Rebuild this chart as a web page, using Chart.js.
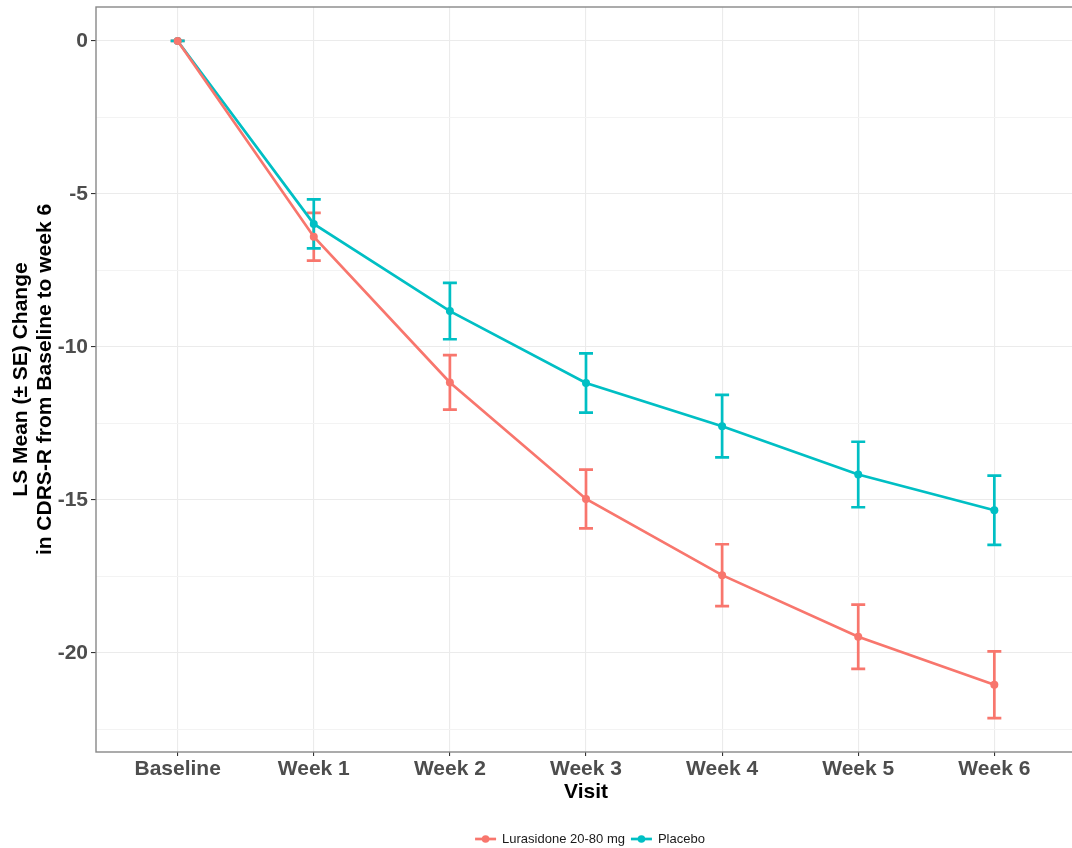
<!DOCTYPE html>
<html>
<head>
<meta charset="utf-8">
<script src="https://cdn.jsdelivr.net/npm/chart.js@4.4.1/dist/chart.umd.min.js"></script>
<style>
  html, body { margin: 0; padding: 0; background: #fff; overflow: hidden; }
  canvas { display: block; }
</style>
</head>
<body>
<canvas id="chart" width="1080" height="848"></canvas>
<script>
// values
var visits = ['Baseline', 'Week 1', 'Week 2', 'Week 3', 'Week 4', 'Week 5', 'Week 6'];
var lurasidoneMean = [0, -6.40, -11.16, -14.97, -17.46, -19.47, -21.04];
var lurasidoneSE = [0, 0.78, 0.89, 0.96, 1.01, 1.05, 1.09];
var placeboMean = [0, -5.98, -8.83, -11.18, -12.59, -14.17, -15.34];
var placeboSE = [0, 0.80, 0.92, 0.97, 1.02, 1.07, 1.13];
var yMajorTicks = [0, -5, -10, -15, -20];
var yMinorTicks = [-2.5, -7.5, -12.5, -17.5, -22.5];
var seriesNames = ['Lurasidone 20-80 mg', 'Placebo'];
var seriesColors = ['#F8766D', '#00BFC4'];

var FONT = '"Liberation Sans", Arial, sans-serif';

function toPoints(means)
{
    return means.map(function (m, i) { return { x: i, y: m }; });
}

var errorBars = {
    id: 'errorBars',
    beforeDatasetsDraw: function (chart) {
        var ctx = chart.ctx;
        var xs = chart.scales.x, ys = chart.scales.y;
        var ses = [lurasidoneSE, placeboSE];
        var means = [lurasidoneMean, placeboMean];
        ctx.save();
        ctx.lineWidth = 2.7;
        for (var s = 0; s < 2; s++) {
            ctx.strokeStyle = seriesColors[s];
            for (var i = 0; i < visits.length; i++) {
                var px = xs.getPixelForValue(i);
                var top = ys.getPixelForValue(means[s][i] + ses[s][i]);
                var bot = ys.getPixelForValue(means[s][i] - ses[s][i]);
                ctx.beginPath();
                ctx.moveTo(px, top); ctx.lineTo(px, bot);
                ctx.moveTo(px - 7, top); ctx.lineTo(px + 7, top);
                ctx.moveTo(px - 7, bot); ctx.lineTo(px + 7, bot);
                ctx.stroke();
            }
        }
        ctx.restore();
    }
};

var frameAndLegend = {
    id: 'frameAndLegend',
    afterDraw: function (chart) {
        var ctx = chart.ctx;
        var a = chart.chartArea;
        ctx.save();
        ctx.strokeStyle = '#888888';
        ctx.lineWidth = 1.4;
        ctx.strokeRect(a.left, a.top, a.right - a.left, a.bottom - a.top);

        // legend under the plot
        ctx.font = '13px ' + FONT;
        ctx.textBaseline = 'middle';
        var keyW = 21, gap = 6, itemGap = 6;
        var total = 0;
        seriesNames.forEach(function (n, i) {
            total += keyW + gap + ctx.measureText(n).width + (i < seriesNames.length - 1 ? itemGap : 0);
        });
        var x = (a.left + a.right) / 2 + 4 - total / 2;
        var y = 839;
        seriesNames.forEach(function (n, i) {
            ctx.strokeStyle = seriesColors[i];
            ctx.fillStyle = seriesColors[i];
            ctx.lineWidth = 2.7;
            ctx.beginPath();
            ctx.moveTo(x, y); ctx.lineTo(x + keyW, y);
            ctx.stroke();
            ctx.beginPath();
            ctx.arc(x + keyW / 2, y, 3.8, 0, Math.PI * 2);
            ctx.fill();
            x += keyW + gap;
            ctx.fillStyle = '#1a1a1a';
            ctx.fillText(n, x, y);
            x += ctx.measureText(n).width + itemGap;
        });
        ctx.restore();
    }
};

var ctx = document.getElementById('chart').getContext('2d');
var chart = new Chart(ctx, {
    type: 'line',
    data: {
        datasets: [
            {
                label: seriesNames[0],
                data: toPoints(lurasidoneMean),
                borderColor: seriesColors[0],
                backgroundColor: seriesColors[0],
                borderWidth: 2.7,
                pointRadius: 4,
                pointBorderWidth: 0,
                tension: 0
            },
            {
                label: seriesNames[1],
                data: toPoints(placeboMean),
                borderColor: seriesColors[1],
                backgroundColor: seriesColors[1],
                borderWidth: 2.7,
                pointRadius: 4,
                pointBorderWidth: 0,
                tension: 0
            }
        ]
    },
    options:
    {
        responsive: false,
        animation: false,
        layout: { padding: { top: 7, right: 0, left: 0, bottom: 44 } },
        plugins:
        {
            legend: { display: false },
            tooltip: { enabled: false }
        },
        scales:
        {
            x:
            {
                type: 'linear',
                min: -0.6,
                max: 6.6,
                afterBuildTicks: function (scale) {
                    scale.ticks = visits.map(function (v, i) { return { value: i }; });
                },
                afterFit: function (scale) {
                    scale.height = 52;
                    scale.paddingLeft = 0;
                    scale.paddingRight = 0;
                },
                ticks:
                {
                    callback: function (value) { return visits[value]; },
                    color: '#4D4D4D',
                    font: { family: FONT, size: 21, weight: 'bold' },
                    padding: 1,
                    maxRotation: 0,
                    autoSkip: false
                },
                grid:
                {
                    color: '#EBEBEB',
                    lineWidth: 1.1,
                    tickLength: 4,
                    tickColor: '#333333'
                },
                border: { display: false },
                title:
                {
                    display: true,
                    text: 'Visit',
                    color: '#000000',
                    font: { family: FONT, size: 21, weight: 'bold', lineHeight: 1.15 },
                    padding: { top: 0, bottom: 0 }
                }
            },
            y:
            {
                type: 'linear',
                min: -23.24,
                max: 1.11,
                afterBuildTicks: function (scale) {
                    scale.ticks = yMajorTicks.concat(yMinorTicks).map(function (v) { return { value: v }; });
                },
                afterFit: function (scale) {
                    scale.width = 96;
                    scale.paddingTop = 0;
                    scale.paddingBottom = 0;
                },
                ticks:
                {
                    callback: function (value) { return yMajorTicks.indexOf(value) >= 0 ? String(value) : ''; },
                    color: '#4D4D4D',
                    font: { family: FONT, size: 21, weight: 'bold' },
                    padding: 3,
                    autoSkip: false
                },
                grid:
                {
                    color: function (c) { return yMajorTicks.indexOf(c.tick.value) >= 0 ? '#EBEBEB' : '#F3F3F3'; },
                    lineWidth: 1.1,
                    tickLength: 5,
                    tickColor: function (c) { return yMajorTicks.indexOf(c.tick.value) >= 0 ? '#333333' : 'rgba(0,0,0,0)'; }
                },
                border: { display: false },
                title:
                {
                    display: true,
                    text: ['LS Mean (\u00B1 SE) Change', 'in CDRS-R from Baseline to week 6'],
                    color: '#000000',
                    font: { family: FONT, size: 21, weight: 'bold', lineHeight: 1.15 },
                    padding: { top: 9, bottom: 0 }
                }
            }
        }
    },
    plugins: [errorBars, frameAndLegend]
});
</script>
</body>
</html>
